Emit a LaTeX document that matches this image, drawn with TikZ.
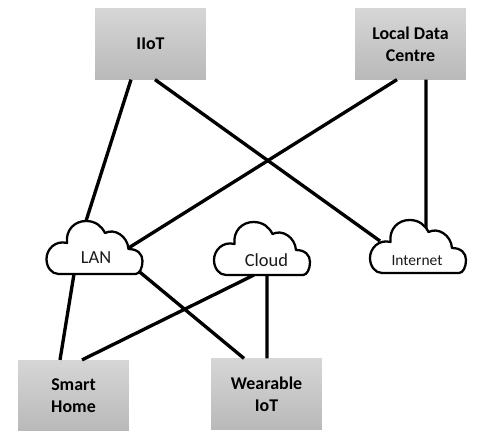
\documentclass[tikz,border=0pt]{standalone}
\usepackage{fontspec}
\setmainfont{Carlito}
\usetikzlibrary{calc}
\definecolor{BoxTop}{HTML}{D6D6D6}
\definecolor{BoxBottom}{HTML}{B9B9B9}
\definecolor{DarkText}{HTML}{1A1A1A}
\tikzset{
  greybox/.style={top color=BoxTop, bottom color=BoxBottom, draw=none, minimum width=2.22cm, minimum height=1.41cm, inner sep=0pt, align=center, text=black, font=\fontsize{10.2}{12.6}\selectfont\bfseries},
  cloudlabel/.style={minimum width=1.94cm, minimum height=1.08cm, inner sep=0pt, text=DarkText},
  cloudline/.style={draw=black, line width=1.3pt, fill=white, line join=round},
  link/.style={draw=black, line width=1.9pt}
}
\begin{document}
\begin{tikzpicture}[x=.02cm,y=-.02cm]
\useasboundingbox (0,0) rectangle (500,443);
\node[greybox] (iiot) at (150.5,44) {IIoT};
\node[greybox] (datacentre) at (410.5,44) {Local Data\\Centre};
\node[greybox] (smarthome) at (73.5,395.5) {Smart\\Home};
\node[greybox] (wearable) at (266.5,394) {Wearable\\IoT};
% links go under the clouds
\foreach \name/\x/\y in {lan/94.5/248,cloud/262/249,internet/418/247}{
  \coordinate (\name c) at (\x,\y);
}
\draw[link] ($(iiot.south)+(-19.5,0)$) -- ($(lanc)+(-8.5,-27)$);
\draw[link] ($(iiot.south)+(4.5,0)$) -- ($(internetc)+(-38,-6)$);
\draw[link] ($(datacentre.south)+(-13.5,0)$) -- ($(lanc)+(34,0)$);
\draw[link] ($(datacentre.south)+(15.5,0)$) -- ($(internetc)+(8,-17)$);
\draw[link] ($(lanc)+(-20.5,26)$) -- ($(smarthome.north)+(-13.5,0)$);
\draw[link] ($(lanc)+(44,23)$) -- ($(wearable.north)+(-22.5,0)$);
\draw[link] ($(cloudc)+(-8,26)$) -- ($(smarthome.north)+(8.5,0)$);
\draw[link] ($(cloudc)+(5,26)$) -- ($(wearable.north)+(.5,0)$);
\foreach \name/\lbl/\fs/\dx/\dy in {lan/LAN/10.5/1.5/10,cloud/Cloud/10.5/4.5/11,internet/Internet/8.8/-1/14}{
  \draw[cloudline,shift={(\name c)}] (-36,26) .. controls (-43,26) and (-48,19) .. (-48,11)
    .. controls (-48,1) and (-39,-8) .. (-27.5,-5)
    .. controls (-29,-18) and (-20,-27) .. (-8.5,-27)
    .. controls (1,-27) and (7,-22) .. (10.5,-15)
    .. controls (20,-20) and (33,-12) .. (34,1)
    .. controls (43,1) and (48,6) .. (48,13)
    .. controls (48,20) and (45,26) .. (41,26) -- cycle;
  \node[cloudlabel,font=\fontsize{\fs}{12}\selectfont] (\name) at ($(\name c)+(\dx,\dy)$) {\lbl};
}
\end{tikzpicture}
\end{document}
